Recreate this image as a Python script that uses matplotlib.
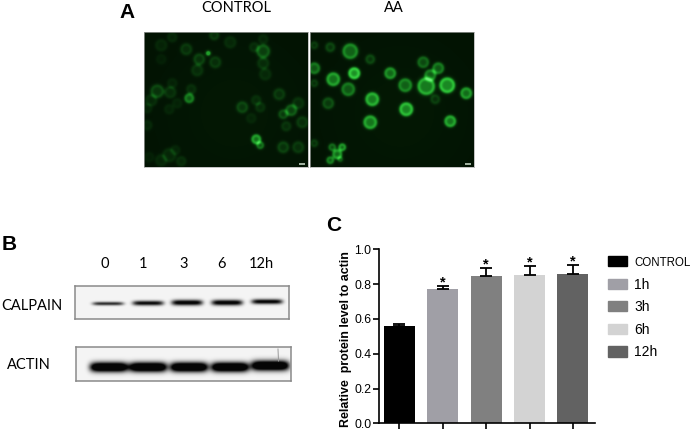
import numpy as np
import matplotlib
matplotlib.use("Agg")
from matplotlib import pyplot as plt
from matplotlib.colors import LinearSegmentedColormap
from matplotlib.patches import Patch

W, H = 692, 432

# panel C values
groups = ['CONTROL', '1h', '3h', '6h', '12h']
means = [0.56, 0.77, 0.845, 0.855, 0.86]
errs = [0.01, 0.018, 0.048, 0.05, 0.048]
stars = ['', '*', '*', '*', '*']
bar_colors = ['#000000', '#a09fa6', '#808080', '#d3d3d3', '#626262']
y_ticks = [0.0, 0.2, 0.4, 0.6, 0.8, 1.0]

# panel B bands: x centre in blot px, strength, half height in px
lane_labels = ['0', '1', '3', '6', '12h']
lane_label_x = [105, 143, 184, 222, 261]
calpain_x = [33, 73, 112, 152, 192]
calpain_y = [17.5, 17, 16.5, 16.5, 15.5]
calpain_amp = [0.8, 0.95, 1.05, 1.05, 1.0]
calpain_h = [1.8, 2.4, 2.8, 2.8, 2.5]
actin_x = [33, 72, 113, 154, 194]
actin_y = [20, 20, 20, 20, 18.5]
actin_amp = [1.5, 1.5, 1.5, 1.5, 1.5]
actin_h = [4.8, 4.8, 4.8, 4.8, 5.0]

# panel A cells: x, y in panel px, radius, brightness
control_cells = [
    (17, 13, 5, .25), (42, 17, 5, .4), (28, 5, 4, .25), (70, 3, 4, .4), (86, 10, 5, .3),
    (55, 27, 5, .45), (71, 30, 5, .4), (64, 21, 1.5, 1.), (53, 38, 5, .35), (17, 27, 4, .15),
    (110, 15, 4, .3), (119, 7, 4, .25), (119, 19, 6, .6), (119, 31, 5, .35), (121, 42, 5, .3),
    (28, 51, 4, .2), (13, 59, 6, .5), (26, 60, 5, .35), (47, 57, 4, .3), (45, 66, 4, .8),
    (7, 68, 5, .3), (25, 77, 4, .2), (33, 71, 4, .2), (3, 76, 4, .2), (98, 75, 5, .45),
    (112, 68, 4, .3), (116, 75, 4, .3), (107, 86, 4, .2), (135, 62, 5, .4), (154, 71, 5, .35),
    (147, 78, 5, .6), (139, 82, 4, .5), (142, 94, 4, .35), (158, 90, 5, .4), (3, 93, 4, .25),
    (112, 107, 4, 1.), (116, 113, 3, .7), (139, 115, 5, .45), (154, 115, 5, .4), (31, 118, 4, .2),
    (25, 123, 6, .3), (17, 128, 5, .25), (37, 129, 4, .3), (5, 125, 4, .15),
]
aa_cells = [
    (40, 19, 7, .7), (20, 15, 4, .35), (4, 13, 3, .3), (4, 36, 5, .6), (60, 27, 4, .35),
    (44, 41, 5, 1.), (23, 47, 6, .8), (80, 41, 5, .7), (4, 51, 3, .3), (38, 57, 6, .6),
    (113, 30, 5, .5), (128, 36, 5, .6), (120, 43, 5, .6), (95, 53, 6, .65), (116, 54, 8, .85),
    (137, 53, 7, .95), (125, 67, 4, .3), (156, 61, 5, .75), (62, 67, 6, .85), (18, 71, 5, .4),
    (96, 77, 6, .9), (60, 90, 6, .8), (140, 89, 5, .8), (4, 111, 3, .3), (27, 122, 4, .7),
    (20, 128, 3, .6), (32, 115, 3, .7), (22, 115, 3, .5), (30, 127, 2, .4),
]


def px_axes(fig, x0, y0, x1, y1):
    return fig.add_axes([x0 / W, 1 - y1 / H, (x1 - x0) / W, (y1 - y0) / H])


def px_text(fig, x, y, s, **kw):
    fig.text(x / W, 1 - y / H, s, ha=kw.pop('ha', 'center'), va=kw.pop('va', 'center'), **kw)


def draw_cells(ax, cells, w=164, h=135, gain=1.0):
    yy, xx = np.mgrid[0:h:0.5, 0:w:0.5]
    img = 0.07 + 0.03 * np.exp(-((xx - w * .55) ** 2 + (yy - h * .6) ** 2) / 5000)
    for cx, cy, r, b in cells:
        r = r * 1.1 + 0.5
        d = np.hypot(xx - cx, yy - cy)
        body = np.exp(-(d / r) ** 4) * 0.42
        ring = np.exp(-((d - r * 0.8) / 1.9) ** 2) * 0.3
        img = img + gain * b * (body + ring)
    cmap = LinearSegmentedColormap.from_list(
        'gfp', ['#000800', '#08300a', '#167a1e', '#2fc83a', '#70f078'])
    ax.imshow(img, cmap=cmap, vmin=0, vmax=1, extent=(0, w, h, 0),
              interpolation='bilinear', aspect='auto')
    ax.add_patch(plt.Rectangle((w - 9, h - 4), 6, 1.5, color='#9fb09f', lw=0))
    ax.set_xticks([])
    ax.set_yticks([])
    for s in ax.spines.values():
        s.set_color('#aaaaaa')
        s.set_linewidth(0.5)


def draw_blot(ax, xs, ys, amps, hs, w, h, halfwidth=15.5):
    yy, xx = np.mgrid[0:h:0.25, 0:w:0.25]
    img = np.full(xx.shape, 0.96)
    for cx, cy, a, bh in zip(xs, ys, amps, hs):
        mask = np.exp(-((xx - cx) / halfwidth) ** 6)
        img = img - a * mask * np.exp(-((yy - cy) / bh) ** 2)
    ax.imshow(np.clip(img, 0.02, 1), cmap='gray', vmin=0, vmax=1, extent=(0, w, h, 0),
              interpolation='bilinear', aspect='auto')
    ax.set_xticks([])
    ax.set_yticks([])
    for s in ax.spines.values():
        s.set_color('#8a8a8a')
        s.set_linewidth(1.1)


fig = plt.figure(figsize=(W / 100, H / 100), dpi=100)

label_font = ['Lato', 'DejaVu Sans']
chart_font = 'Liberation Sans'

# panel A
draw_cells(px_axes(fig, 143.5, 32, 307.5, 167), control_cells, gain=0.85)
draw_cells(px_axes(fig, 310, 32, 474, 167), aa_cells, gain=1.15)
px_text(fig, 127, 12, 'A', family='Liberation Sans', fontweight='bold', fontsize=15)
px_text(fig, 236.5, 8, 'CONTROL', family=label_font, fontsize=10.5)
px_text(fig, 394, 8, 'AA', family=label_font, fontsize=10.5)

# panel B
draw_blot(px_axes(fig, 75, 286, 289, 319), calpain_x, calpain_y, calpain_amp, calpain_h, 214, 33)
ax_actin = px_axes(fig, 76, 347, 291, 381)
draw_blot(ax_actin, actin_x, actin_y, actin_amp, actin_h, 215, 34, 19)
ax_actin.plot([202, 202.5], [2, 14], color='#999999', lw=0.7)
px_text(fig, 9, 245, 'B', family='Liberation Sans', fontweight='bold', fontsize=15)
for x, lab in zip(lane_label_x, lane_labels):
    px_text(fig, x, 263.5, lab, family=label_font, fontsize=10.5)
px_text(fig, 32, 306, 'CALPAIN', family=label_font, fontsize=10.5)
px_text(fig, 29, 365, 'ACTIN', family=label_font, fontsize=10.5)

# panel C
px_text(fig, 334, 225, 'C', family='Liberation Sans', fontweight='bold', fontsize=15)
ax = px_axes(fig, 379, 249.3, 595, 423.3)
x = np.arange(len(groups))
bars = ax.bar(x, means, width=0.71, color=bar_colors)
ax.errorbar(x, means, yerr=[[0] * len(errs), errs], fmt='none', ecolor='black',
            elinewidth=1.3, capsize=4.5, capthick=1.3)
for xi, m, e, s in zip(x, means, errs, stars):
    if s:
        ax.text(xi, m + e - 0.002, s, ha='center', va='baseline', fontsize=10.5,
                fontweight='bold', family=chart_font)
ax.set_xlim(-0.47, 4.51)
ax.set_ylim(0, 1.0)
ax.set_xticks(x)
ax.set_xticklabels([])
ax.set_yticks(y_ticks)
ax.set_yticklabels(['%.1f' % t for t in y_ticks], family=chart_font, fontsize=8.8)
ax.tick_params(length=4, width=1.2, pad=1.5)
ax.spines['top'].set_visible(False)
ax.spines['right'].set_visible(False)
ax.spines['left'].set_linewidth(1.2)
ax.spines['bottom'].set_linewidth(1.2)
ax.set_ylabel('Relative  protein level to actin', family=chart_font, fontweight='bold',
              fontsize=8.9, labelpad=2)
ax.yaxis.set_label_coords(-0.125, 0.485)
ax.patch.set_alpha(0)

handles = [Patch(color=c) for c in bar_colors]
leg = fig.legend(handles, groups, loc='upper left', bbox_to_anchor=(608 / W, 1 - 256 / H),
                 frameon=False, handlelength=1.35, handleheight=0.75, handletextpad=0.55,
                 labelspacing=0.62, borderpad=0, borderaxespad=0,
                 prop={'family': chart_font, 'size': 10})
leg.get_texts()[0].set_fontsize(8.3)

fig.savefig('out.png', dpi=100)
